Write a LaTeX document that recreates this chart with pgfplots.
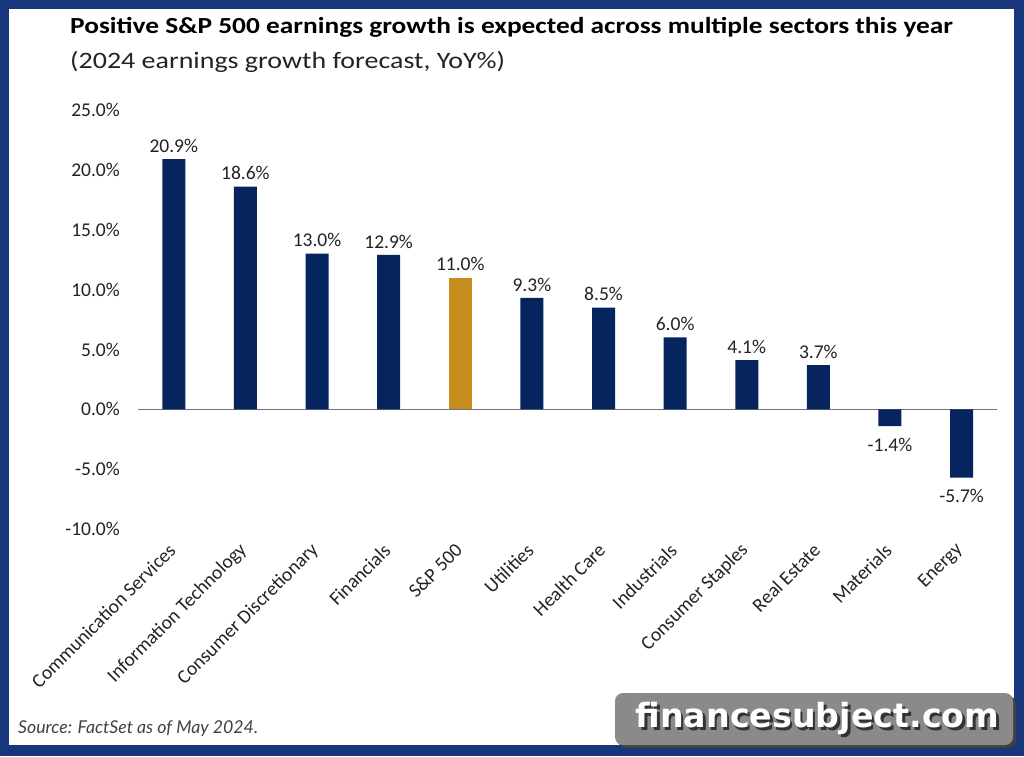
\documentclass[border=0pt]{standalone}
\usepackage{pgfplots}
\pgfplotsset{compat=1.18}
\usepackage{fontspec}
\setmainfont{Carlito}
\newfontfamily\titlefont[FakeStretch=1.19]{Carlito}
\newfontfamily\latofont{Lato}
\newfontfamily\wmfont{DejaVu Sans}
\definecolor{navybar}{RGB}{6,36,94}
\definecolor{goldbar}{RGB}{198,140,30}
\definecolor{frame}{RGB}{24,54,124}
\definecolor{txt}{RGB}{35,35,35}
\definecolor{srctxt}{RGB}{64,64,72}
\definecolor{wmgray}{RGB}{138,138,138}
\pgfplotstableread{
x y
0 20.9
1 18.6
2 13.0
3 12.9
5 9.3
6 8.5
7 6.0
8 4.1
9 3.7
}\sectors
\pgfplotstableread{
x y
10 -1.4
11 -5.7
}\negsectors
\pgfplotstableread{
x y
4 11.0
}\spx
\begin{document}
\begin{tikzpicture}
\fill[frame] (0pt,0pt) rectangle (1024pt,-756pt);
\fill[white] (9pt,-9pt) rectangle (1014pt,-745pt);
\node[anchor=base west, inner sep=0pt, font=\titlefont\fontsize{23}{27}\selectfont\bfseries, text=black] at (70pt,-33pt) {Positive S\&P 500 earnings growth is expected across multiple sectors this year};
\node[anchor=base west, inner sep=0pt, font=\titlefont\fontsize{23.5}{28}\selectfont, text=txt] at (70pt,-68pt) {(2024 earnings growth forecast, YoY\%)};
\begin{axis}[
  at={(138pt,-529pt)}, anchor=south west,
  scale only axis, width=859.4pt, height=419pt,
  xmin=-0.5, xmax=11.5, ymin=-10, ymax=25,
  ybar, bar width=23pt,
  axis line style={draw=none},
  major tick length=0pt,
  xtick={0,...,11},
  xticklabels={Communication Services, Information Technology, Consumer Discretionary, Financials, S\&P 500, Utilities, Health Care, Industrials, Consumer Staples, Real Estate, Materials, Energy},
  xticklabel style={xshift=-1.5pt, yshift=-18pt, rotate=45, anchor=east, inner sep=0pt, font=\fontsize{19.5}{23}\selectfont, text=txt},
  ytick={-10,-5,0,5,10,15,20,25},
  yticklabel={\pgfmathprintnumber[fixed,fixed zerofill,precision=1]{\tick}\%},
  yticklabel style={anchor=east, inner sep=0pt, xshift=-18pt, font=\fontsize{19.5}{23}\selectfont, text=txt},
  /pgf/number format/assume math mode=true,
  nodes near coords={\pgfmathprintnumber[fixed,fixed zerofill,precision=1,assume math mode=true]{\pgfplotspointmeta}\%},
  nodes near coords align={vertical},
  every node near coord/.append style={font=\fontsize{19.5}{23}\selectfont, text=txt, inner sep=6.5pt},
  clip=false,
]
\draw[gray!90!black, line width=1.2pt] (axis cs:-0.5,0) -- (axis cs:11.5,0);
\addplot[fill=navybar, draw=none, bar shift=0pt] table[x=x,y=y] {\sectors};
\addplot[fill=navybar, draw=none, bar shift=0pt, every node near coord/.append style={yshift=-5pt}] table[x=x,y=y] {\negsectors};
\addplot[fill=goldbar, draw=none, bar shift=0pt] table[x=x,y=y] {\spx};
\end{axis}
\node[anchor=base west, inner sep=0pt, font=\latofont\itshape\fontsize{17.7}{22}\selectfont, text=srctxt] at (18pt,-733pt) {Source: FactSet as of May 2024.};
\fill[black!75, rounded corners=8pt] (618pt,-696pt) rectangle (1016pt,-748pt);
\fill[wmgray, rounded corners=8pt] (615pt,-693pt) rectangle (1013pt,-745pt);
\node[inner sep=0pt, font=\wmfont\bfseries\fontsize{33.3}{36}\selectfont, text=black!80] at (820pt,-721pt) {financesubject.com};
\node[inner sep=0pt, font=\wmfont\bfseries\fontsize{33.3}{36}\selectfont, text=white] at (817.5pt,-718.5pt) {financesubject.com};
\end{tikzpicture}
\end{document}
